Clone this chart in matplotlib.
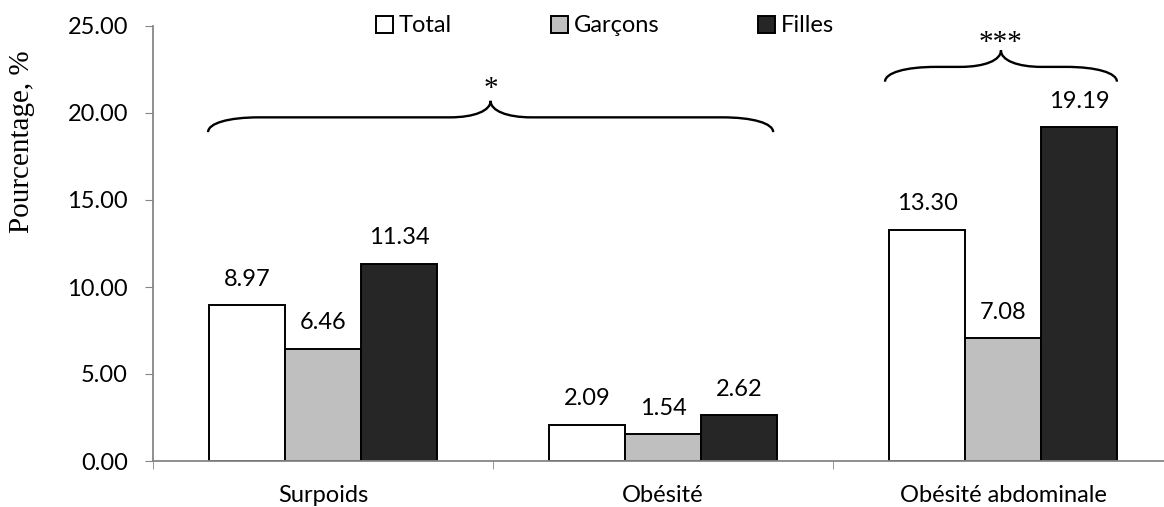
import matplotlib
matplotlib.use('Agg')
from matplotlib import pyplot as plt
from matplotlib.path import Path
from matplotlib.patches import PathPatch
import numpy as np

categories = ['Surpoids', 'Obésité', 'Obésité abdominale']
series = ['Total', 'Garçons', 'Filles']
total = [8.97, 2.09, 13.30]
garcons = [6.46, 1.54, 7.08]
filles = [11.34, 2.62, 19.19]
colors = ['#ffffff', '#bfbfbf', '#262626']
yticks = [0, 5, 10, 15, 20, 25]

plt.rcParams['font.family'] = ['Lato', 'DejaVu Sans']
fs = 17

fig = plt.figure(figsize=(11.64, 5.07), dpi=100)
ax = fig.add_axes([153 / 1164, 46 / 507, 1020 / 1164, 435 / 507])

x = np.arange(len(categories))
w = 0.2235
for i, (vals, name) in enumerate(zip([total, garcons, filles], series)):
    bars = ax.bar(x + (i - 1) * w, vals, w, color=colors[i], edgecolor='black',
                  linewidth=1.4, label=name, zorder=2)
    for b, v in zip(bars, vals):
        ax.annotate('%.2f' % v, (b.get_x() + b.get_width() / 2, v),
                    xytext=(0, 11), textcoords='offset points',
                    ha='center', va='bottom', fontsize=fs)

ax.set_xlim(-0.5, 2.5)
ax.set_ylim(0, 25)
ax.set_yticks(yticks)
ax.set_yticklabels(['%.2f' % t for t in yticks], fontsize=fs)
ax.set_xticks(x)
ax.set_xticklabels(categories, fontsize=fs)
ax.set_xticks([-0.5, 0.5, 1.5, 2.5], minor=True)
ax.tick_params(axis='x', which='major', length=0, pad=17)
ax.tick_params(axis='x', which='minor', length=6, color='#868686', direction='out')
ax.tick_params(axis='y', length=6, color='#868686', direction='out', pad=12)
for s in ['top', 'right']:
    ax.spines[s].set_visible(False)
for s in ['left', 'bottom']:
    ax.spines[s].set_color('#868686')
    ax.spines[s].set_linewidth(1.3)

fig.text(22 / 1164, 1 - 142 / 507, 'Pourcentage, %', rotation=90,
         ha='center', va='center', fontsize=21, family='Liberation Serif')


def brace(x0, x1, ye, yl, yp, dx, dm):
    xm = (x0 + x1) / 2
    verts = [(x0, ye),
             (x0, ye + 0.6 * (yl - ye)), (x0 + 0.4 * dx, yl), (x0 + dx, yl),
             (xm - dm, yl),
             (xm - 0.4 * dm, yl), (xm, yl + 0.4 * (yp - yl)), (xm, yp),
             (xm, yl + 0.4 * (yp - yl)), (xm + 0.4 * dm, yl), (xm + dm, yl),
             (x1 - dx, yl),
             (x1 - 0.4 * dx, yl), (x1, ye + 0.6 * (yl - ye)), (x1, ye)]
    codes = [Path.MOVETO] + [Path.CURVE4] * 3 + [Path.LINETO] + [Path.CURVE4] * 6 \
        + [Path.LINETO] + [Path.CURVE4] * 3
    ax.add_patch(PathPatch(Path(verts, codes), fill=False, lw=1.7,
                           edgecolor='black', clip_on=False, zorder=3))


brace(-0.338, 1.324, 18.9, 19.75, 20.7, 0.15, 0.12)
ax.text(0.493, 21.0, '*', ha='center', va='baseline', fontsize=21,
        family='Liberation Serif')
brace(1.653, 2.335, 21.8, 22.65, 23.6, 0.15, 0.12)
ax.text(1.994, 23.6, '***', ha='center', va='baseline', fontsize=21,
        family='Liberation Serif', clip_on=False)

fig.legend(loc='center', bbox_to_anchor=(605 / 1164, 1 - 26 / 507), ncol=3,
           frameon=False, fontsize=fs, handlelength=0.7, handleheight=0.7,
           handletextpad=0.25, columnspacing=4.2, borderaxespad=0)

fig.savefig('out.png', dpi=100)
